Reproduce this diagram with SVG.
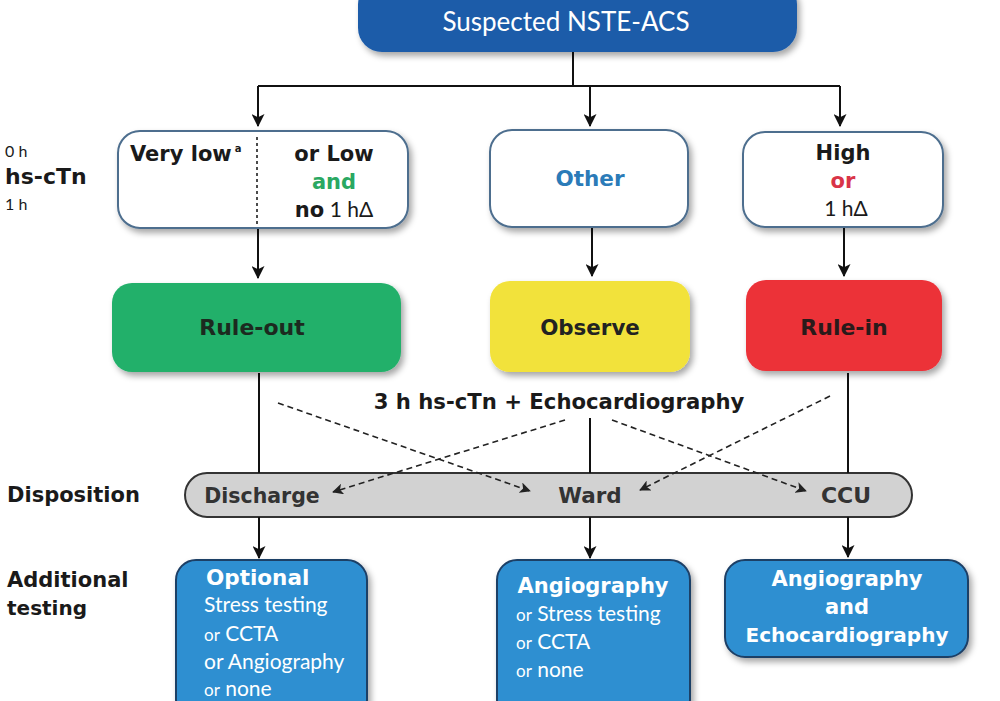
<svg xmlns="http://www.w3.org/2000/svg" width="1000" height="701" viewBox="0 0 1000 701">
<defs>
<style>
text{font-family:Lato,"Open Sans","DejaVu Sans",sans-serif;}
.b{font-family:"DejaVu Sans",Lato,sans-serif;font-weight:700;}
.c{text-anchor:middle;}
.w{fill:#ffffff;}
.k{fill:#1a1a1a;}
.line{stroke:#111;stroke-width:2;fill:none;}
.dash{stroke:#222;stroke-width:1.6;fill:none;stroke-dasharray:6 4;}
.card{fill:#ffffff;stroke:#4d6e8e;stroke-width:2;}
.blue{fill:#2f8fd1;stroke:#1f3f66;stroke-width:2;}
</style>
<filter id="sh" x="-10%" y="-10%" width="125%" height="135%">
<feDropShadow dx="3" dy="4" stdDeviation="3" flood-color="#000" flood-opacity="0.35"/>
</filter>
<marker id="ah" viewBox="0 0 12 12" refX="11" refY="6" markerWidth="13" markerHeight="13" markerUnits="userSpaceOnUse" orient="auto">
<path d="M0,0 L12,6 L0,12 L3,6 Z" fill="#111"/>
</marker>
<marker id="ahs" viewBox="0 0 12 12" refX="11" refY="6" markerWidth="11" markerHeight="11" markerUnits="userSpaceOnUse" orient="auto">
<path d="M0,0 L12,6 L0,12 L3,6 Z" fill="#222"/>
</marker>
</defs>
<rect width="1000" height="701" fill="#ffffff"/>

<g id="side-labels">
<text x="5" y="157" font-size="16" class="k">0 h</text>
<text x="5" y="184" font-size="22" class="b k">hs-cTn</text>
<text x="5" y="210" font-size="16" class="k">1 h</text>
<text x="7" y="502" font-size="21" class="b k">Disposition</text>
<text x="7" y="587" font-size="21" class="b k">Additional</text>
<text x="7" y="615" font-size="20" class="b k">testing</text>
</g>

<g id="node-disposition">
<rect x="185" y="473" width="727" height="44" rx="22" fill="#d2d2d2" stroke="#333" stroke-width="2"/>
<text x="262" y="503" font-size="20.5" class="b c" fill="#333">Discharge</text>
<text x="590" y="503" font-size="21.5" class="b c" fill="#333">Ward</text>
<text x="846" y="503" font-size="22" class="b c" fill="#333">CCU</text>
</g>

<g id="connectors">
<path class="line" d="M573,52 V86 M258,86 H840"/>
<path class="line" d="M258,86 V126" marker-end="url(#ah)"/>
<path class="line" d="M590,86 V126" marker-end="url(#ah)"/>
<path class="line" d="M840,86 V126" marker-end="url(#ah)"/>
<path class="line" d="M258,229 V278" marker-end="url(#ah)"/>
<path class="line" d="M592,228 V276" marker-end="url(#ah)"/>
<path class="line" d="M844,228 V276" marker-end="url(#ah)"/>
<path class="line" d="M259,373 V473"/>
<path class="line" d="M590,418 V473"/>
<path class="line" d="M848,373 V473"/>
<path class="dash" d="M278,403 L530,491" marker-end="url(#ahs)"/>
<path class="dash" d="M565,420 L333,492" marker-end="url(#ahs)"/>
<path class="dash" d="M612,420 L806,491" marker-end="url(#ahs)"/>
<path class="dash" d="M830,396 L640,490" marker-end="url(#ahs)"/>
<path class="line" d="M259,517 V558" marker-end="url(#ah)"/>
<path class="line" d="M590,517 V558" marker-end="url(#ah)"/>
<path class="line" d="M848,517 V557" marker-end="url(#ah)"/>
</g>

<g id="node-start">
<rect x="358" y="-20" width="439" height="72" rx="24" fill="#1e5ca9" filter="url(#sh)"/>
<text x="566" y="31" font-size="26" class="c w">Suspected NSTE-ACS</text>
</g>

<g id="node-verylow">
<rect x="118" y="131" width="290" height="97" rx="22" class="card" filter="url(#sh)"/>
<line x1="257" y1="137" x2="257" y2="224" stroke="#111" stroke-width="1.5" stroke-dasharray="3 3"/>
<text x="130" y="161" font-size="21" class="b k">Very low<tspan font-size="10" dy="-9" dx="3">a</tspan></text>
<text x="334" y="161" font-size="21" class="b c k">or Low</text>
<text x="334" y="189" font-size="21" class="b c" fill="#2aa862">and</text>
<text x="334" y="217" font-size="21" class="c k"><tspan class="b">no</tspan> 1 hΔ</text>
</g>

<g id="node-other">
<rect x="490" y="130" width="198" height="97" rx="22" class="card" filter="url(#sh)"/>
<text x="590" y="186" font-size="21.5" class="b c" fill="#2b7bb8">Other</text>
</g>

<g id="node-high">
<rect x="743" y="132" width="200" height="95" rx="22" class="card" filter="url(#sh)"/>
<text x="843" y="160" font-size="21" class="b c k">High</text>
<text x="843" y="188" font-size="21" class="b c" fill="#d93448">or</text>
<text x="846" y="216" font-size="21" class="c k">1 hΔ</text>
</g>

<g id="node-ruleout">
<rect x="112" y="283" width="289" height="89" rx="20" fill="#22b06a" filter="url(#sh)"/>
<text x="252" y="335" font-size="22" class="b c" fill="#1c2a1f">Rule-out</text>
</g>

<g id="node-observe">
<rect x="490" y="281" width="200" height="91" rx="20" fill="#f2e23a" filter="url(#sh)"/>
<text x="590" y="335" font-size="21.4" class="b c" fill="#222">Observe</text>
</g>

<g id="node-rulein">
<rect x="746" y="280" width="196" height="91" rx="20" fill="#ec3039" filter="url(#sh)"/>
<text x="844" y="335" font-size="22" class="b c" fill="#2a1a1a">Rule-in</text>
</g>

<g id="label-3h">
<text x="559" y="409" font-size="21.2" class="b c k">3 h hs-cTn + Echocardiography</text>
</g>

<g id="node-optional">
<rect x="176" y="560" width="191" height="160" rx="20" class="blue" filter="url(#sh)"/>
<text x="206" y="585" font-size="21.5" class="b w">Optional</text>
<text x="204" y="612" font-size="21" class="w">Stress testing</text>
<text x="204" y="641" font-size="21" class="w"><tspan font-size="17">or</tspan> CCTA</text>
<text x="204" y="669" font-size="21" class="w">or Angiography</text>
<text x="204" y="696" font-size="21" class="w"><tspan font-size="17">or</tspan> none</text>
</g>

<g id="node-angio">
<rect x="497" y="560" width="193" height="160" rx="20" class="blue" filter="url(#sh)"/>
<text x="593" y="593" font-size="21" class="b c w">Angiography</text>
<text x="516" y="621" font-size="21" class="w"><tspan font-size="17">or</tspan> Stress testing</text>
<text x="516" y="649" font-size="21" class="w"><tspan font-size="17">or</tspan> CCTA</text>
<text x="516" y="677" font-size="21" class="w"><tspan font-size="17">or</tspan> none</text>
</g>

<g id="node-angio-echo">
<rect x="725" y="560" width="243" height="97" rx="20" class="blue" filter="url(#sh)"/>
<text x="847" y="586" font-size="21" class="b c w">Angiography</text>
<text x="847" y="614" font-size="21" class="b c w">and</text>
<text x="847" y="642" font-size="20" class="b c w">Echocardiography</text>
</g>
</svg>
